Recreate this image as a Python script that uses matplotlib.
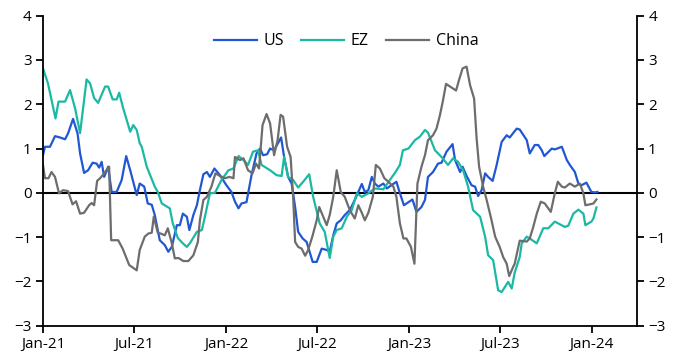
import pandas as pd
import matplotlib
matplotlib.use("Agg")
import matplotlib.pyplot as plt

plt.rcParams['font.family'] = ['Open Sans', 'DejaVu Sans']

# ---------------- data ----------------
us_dates = ["2021-01-01", "2021-01-05", "2021-01-15", "2021-01-25", "2021-02-04", "2021-02-14",
            "2021-02-20", "2021-03-02", "2021-03-11", "2021-03-16", "2021-03-24", "2021-04-01",
            "2021-04-10", "2021-04-18", "2021-04-23", "2021-04-28", "2021-05-03", "2021-05-11",
            "2021-05-18", "2021-05-28", "2021-06-07", "2021-06-16", "2021-06-24", "2021-07-07",
            "2021-07-13", "2021-07-22", "2021-07-29", "2021-08-06", "2021-08-12", "2021-08-22",
            "2021-09-01", "2021-09-08", "2021-09-15", "2021-09-25", "2021-10-01", "2021-10-07",
            "2021-10-15", "2021-10-20", "2021-10-28", "2021-11-04", "2021-11-10", "2021-11-17",
            "2021-11-24", "2021-11-30", "2021-12-09", "2021-12-20", "2022-01-02", "2022-01-12",
            "2022-01-19", "2022-01-26", "2022-02-01", "2022-02-11", "2022-02-21", "2022-03-03",
            "2022-03-10", "2022-03-16", "2022-03-24", "2022-03-30", "2022-04-07", "2022-04-21",
            "2022-04-27", "2022-05-05", "2022-05-12", "2022-05-19", "2022-05-25", "2022-06-03",
            "2022-06-11", "2022-06-18", "2022-06-23", "2022-07-01", "2022-07-11", "2022-07-21",
            "2022-07-27", "2022-08-03", "2022-08-10", "2022-08-18", "2022-08-26", "2022-09-05",
            "2022-09-15", "2022-09-22", "2022-09-29", "2022-10-05", "2022-10-12", "2022-10-19",
            "2022-10-25", "2022-11-01", "2022-11-11", "2022-11-18", "2022-11-27", "2022-12-07",
            "2022-12-14", "2022-12-22", "2022-12-31", "2023-01-08", "2023-01-16", "2023-01-26",
            "2023-02-02", "2023-02-08", "2023-02-18", "2023-02-28", "2023-03-07", "2023-03-17",
            "2023-03-29", "2023-04-03", "2023-04-13", "2023-04-18", "2023-04-26", "2023-05-06",
            "2023-05-13", "2023-05-19", "2023-05-26", "2023-06-02", "2023-06-08", "2023-06-17",
            "2023-06-25", "2023-07-05", "2023-07-15", "2023-07-21", "2023-08-04", "2023-08-10",
            "2023-08-24", "2023-08-30", "2023-09-09", "2023-09-16", "2023-09-23", "2023-09-28",
            "2023-10-13", "2023-10-19", "2023-11-02", "2023-11-12", "2023-11-18", "2023-11-28",
            "2023-12-05", "2023-12-11", "2023-12-21", "2023-12-31", "2024-01-07", "2024-01-12"]
us_vals = [0.85, 1.04, 1.04, 1.28, 1.25, 1.21,
           1.34, 1.67, 1.34, 0.89, 0.45, 0.51,
           0.68, 0.66, 0.57, 0.70, 0.36, 0.59,
           0.02, 0.02, 0.29, 0.83, 0.51, -0.05,
           0.21, 0.14, -0.24, -0.27, -0.50, -1.07,
           -1.18, -1.33, -1.22, -0.73, -0.73, -0.47,
           -0.54, -0.84, -0.50, -0.28, 0.06, 0.42,
           0.47, 0.36, 0.55, 0.40, 0.17, 0.02,
           -0.20, -0.35, -0.24, -0.21, 0.40, 0.89,
           1.00, 0.85, 0.87, 1.00, 0.96, 1.25,
           0.81, 0.36, 0.21, -0.32, -0.88, -1.03,
           -1.11, -1.37, -1.56, -1.56, -1.26, -1.29,
           -1.33, -0.96, -0.69, -0.62, -0.50, -0.39,
           -0.16, 0.02, 0.20, 0.02, 0.06, 0.36,
           0.21, 0.14, 0.21, 0.10, 0.17, 0.25,
           -0.01, -0.28, -0.21, -0.15, -0.43, -0.32,
           -0.16, 0.36, 0.47, 0.66, 0.68, 0.93,
           1.10, 0.74, 0.47, 0.59, 0.38, 0.17,
           0.14, -0.07, 0.06, 0.44, 0.36, 0.27,
           0.63, 1.15, 1.30, 1.25, 1.45, 1.43,
           1.19, 0.89, 1.08, 1.08, 0.96, 0.83,
           1.00, 0.98, 1.04, 0.74, 0.63, 0.47,
           0.21, 0.17, 0.23, 0.02, 0.01, 0.02]

ez_dates = ["2021-01-01", "2021-01-11", "2021-01-26", "2021-02-01", "2021-02-14", "2021-02-24",
            "2021-03-06", "2021-03-16", "2021-03-29", "2021-04-05", "2021-04-13", "2021-04-21",
            "2021-05-05", "2021-05-11", "2021-05-20", "2021-05-28", "2021-06-02", "2021-06-10",
            "2021-06-24", "2021-06-30", "2021-07-07", "2021-07-13", "2021-07-17", "2021-07-27",
            "2021-08-12", "2021-08-18", "2021-08-26", "2021-09-11", "2021-09-17", "2021-09-27",
            "2021-10-07", "2021-10-15", "2021-10-21", "2021-11-04", "2021-11-14", "2021-11-20",
            "2021-11-30", "2021-12-10", "2021-12-23", "2022-01-06", "2022-01-16", "2022-01-26",
            "2022-02-05", "2022-02-14", "2022-02-24", "2022-03-06", "2022-03-13", "2022-03-30",
            "2022-04-12", "2022-04-22", "2022-04-27", "2022-05-05", "2022-05-15", "2022-05-25",
            "2022-06-04", "2022-06-16", "2022-06-24", "2022-07-07", "2022-07-17", "2022-07-27",
            "2022-08-03", "2022-08-10", "2022-08-20", "2022-08-30", "2022-09-09", "2022-09-19",
            "2022-09-29", "2022-10-12", "2022-10-25", "2022-11-11", "2022-11-24", "2022-12-04",
            "2022-12-14", "2022-12-20", "2022-12-31", "2023-01-13", "2023-01-23", "2023-02-02",
            "2023-02-08", "2023-02-22", "2023-03-07", "2023-03-20", "2023-03-30", "2023-04-09",
            "2023-04-19", "2023-04-29", "2023-05-09", "2023-05-23", "2023-06-02", "2023-06-08",
            "2023-06-18", "2023-06-28", "2023-07-05", "2023-07-18", "2023-07-25", "2023-07-31",
            "2023-08-10", "2023-08-14", "2023-08-24", "2023-08-30", "2023-09-13", "2023-09-26",
            "2023-10-06", "2023-10-19", "2023-11-08", "2023-11-15", "2023-11-25", "2023-12-05",
            "2023-12-15", "2023-12-19", "2023-12-31", "2024-01-04", "2024-01-10"]
ez_vals = [2.81, 2.47, 1.68, 2.06, 2.06, 2.32,
           1.91, 1.35, 2.56, 2.47, 2.14, 2.03,
           2.40, 2.40, 2.11, 2.11, 2.26, 1.91,
           1.38, 1.53, 1.42, 1.12, 1.04, 0.59,
           0.14, 0.02, -0.24, -0.35, -0.69, -1.02,
           -1.14, -1.22, -1.14, -0.88, -0.84, -0.54,
           -0.01, 0.00, 0.29, 0.51, 0.55, 0.83,
           0.74, 0.63, 0.93, 0.96, 0.63, 0.51,
           0.40, 0.38, 0.81, 0.36, 0.29, 0.12,
           0.25, 0.42, -0.09, -0.69, -0.88, -1.47,
           -0.99, -0.84, -0.80, -0.54, -0.39, -0.01,
           -0.09, -0.01, 0.10, 0.08, 0.29, 0.45,
           0.63, 0.96, 1.00, 1.19, 1.27, 1.42,
           1.36, 0.96, 0.81, 0.63, 0.78, 0.70,
           0.51, 0.14, -0.39, -0.54, -0.99, -1.41,
           -1.52, -2.20, -2.24, -2.01, -2.16, -1.80,
           -1.45, -1.14, -0.99, -1.03, -1.14, -0.80,
           -0.80, -0.65, -0.77, -0.74, -0.47, -0.38,
           -0.47, -0.73, -0.65, -0.58, -0.33]

cn_dates = ["2021-01-01", "2021-01-05", "2021-01-12", "2021-01-18", "2021-01-25", "2021-02-02",
            "2021-02-10", "2021-02-20", "2021-03-01", "2021-03-08", "2021-03-16", "2021-03-24",
            "2021-04-03", "2021-04-08", "2021-04-13", "2021-04-19", "2021-04-25", "2021-05-05",
            "2021-05-13", "2021-05-17", "2021-05-31", "2021-06-09", "2021-06-22", "2021-07-07",
            "2021-07-13", "2021-07-23", "2021-07-30", "2021-08-06", "2021-08-10", "2021-08-18",
            "2021-08-24", "2021-09-01", "2021-09-07", "2021-09-15", "2021-09-21", "2021-09-28",
            "2021-10-08", "2021-10-18", "2021-10-28", "2021-11-06", "2021-11-10", "2021-11-17",
            "2021-11-24", "2021-12-03", "2021-12-11", "2021-12-20", "2021-12-30", "2022-01-08",
            "2022-01-16", "2022-01-19", "2022-01-29", "2022-02-05", "2022-02-14", "2022-02-23",
            "2022-03-02", "2022-03-08", "2022-03-15", "2022-03-23", "2022-03-30", "2022-04-07",
            "2022-04-14", "2022-04-20", "2022-04-25", "2022-05-03", "2022-05-10", "2022-05-15",
            "2022-05-19", "2022-05-25", "2022-06-01", "2022-06-08", "2022-06-14", "2022-06-23",
            "2022-07-01", "2022-07-06", "2022-07-14", "2022-07-21", "2022-07-27", "2022-08-03",
            "2022-08-10", "2022-08-18", "2022-08-26", "2022-09-05", "2022-09-15", "2022-09-22",
            "2022-09-29", "2022-10-05", "2022-10-12", "2022-10-21", "2022-10-27", "2022-11-04",
            "2022-11-13", "2022-11-21", "2022-12-01", "2022-12-07", "2022-12-14", "2022-12-21",
            "2022-12-27", "2023-01-05", "2023-01-12", "2023-01-18", "2023-01-26", "2023-02-02",
            "2023-02-08", "2023-02-18", "2023-02-25", "2023-03-04", "2023-03-10", "2023-03-16",
            "2023-03-24", "2023-04-05", "2023-04-11", "2023-04-18", "2023-04-26", "2023-05-03",
            "2023-05-11", "2023-05-16", "2023-05-21", "2023-05-29", "2023-06-05", "2023-06-14",
            "2023-06-22", "2023-07-01", "2023-07-08", "2023-07-15", "2023-07-20", "2023-07-28",
            "2023-07-31", "2023-08-10", "2023-08-24", "2023-08-30", "2023-09-06", "2023-09-13",
            "2023-09-21", "2023-09-29", "2023-10-11", "2023-10-19", "2023-10-25", "2023-11-02",
            "2023-11-08", "2023-11-18", "2023-11-28", "2023-12-08", "2023-12-15", "2023-12-19",
            "2023-12-28", "2024-01-04", "2024-01-10"]
cn_vals = [0.63, 0.33, 0.33, 0.47, 0.36, -0.01,
           0.06, 0.04, -0.26, -0.19, -0.47, -0.45,
           -0.28, -0.23, -0.28, 0.27, 0.33, 0.47,
           0.59, -1.07, -1.07, -1.26, -1.63, -1.75,
           -1.29, -0.99, -0.92, -0.90, -0.54, -0.90,
           -0.92, -0.96, -0.80, -1.14, -1.48, -1.47,
           -1.54, -1.54, -1.41, -1.11, -0.62, -0.16,
           -0.09, 0.14, 0.44, 0.38, 0.33, 0.36,
           0.33, 0.81, 0.74, 0.78, 0.51, 0.44,
           0.66, 0.55, 1.53, 1.78, 1.57, 0.85,
           1.19, 1.76, 1.72, 1.04, 0.81, -0.09,
           -1.11, -1.22, -1.26, -1.42, -1.29, -0.96,
           -0.62, -0.32, -0.54, -0.73, -0.50, -0.09,
           0.51, 0.02, -0.09, -0.39, -0.58, -0.28,
           -0.45, -0.62, -0.45, -0.09, 0.63, 0.55,
           0.33, 0.25, 0.14, -0.09, -0.69, -1.03,
           -1.03, -1.22, -1.60, 0.21, 0.59, 0.85,
           1.19, 1.30, 1.45, 1.76, 2.09, 2.46,
           2.40, 2.31, 2.55, 2.81, 2.85, 2.43,
           2.13, 1.23, 0.59, 0.14, -0.16, -0.58,
           -0.99, -1.22, -1.45, -1.60, -1.88, -1.67,
           -1.60, -1.08, -1.10, -1.03, -0.77, -0.47,
           -0.20, -0.24, -0.43, -0.01, 0.25, 0.14,
           0.12, 0.21, 0.14, 0.21, -0.01, -0.28,
           -0.26, -0.24, -0.15]

series = [("US", us_dates, us_vals, "#2257d3"),
          ("EZ", ez_dates, ez_vals, "#1bb9a4"),
          ("China", cn_dates, cn_vals, "#6d6d6d")]

tick_dates = ["2021-01-01", "2021-07-01", "2022-01-01", "2022-07-01",
              "2023-01-01", "2023-07-01", "2024-01-01"]
tick_labels = ["Jan-21", "Jul-21", "Jan-22", "Jul-22", "Jan-23", "Jul-23", "Jan-24"]

# ---------------- plot ----------------
fig = plt.figure(figsize=(6.8, 3.64), dpi=100)
ax = fig.add_axes([0.0632, 0.1052, 0.8736, 0.8517])

for name, d, v, c in series:
    ax.plot(pd.to_datetime(d), v, color=c, lw=1.6, label=name)

ax.axhline(0, color="black", lw=1.5, zorder=1)

ax.set_ylim(-3, 4)
ax.set_yticks(range(-3, 5))
ax.set_xlim(pd.Timestamp("2021-01-01"), pd.Timestamp("2024-03-31"))
ax.set_xticks(pd.to_datetime(tick_dates))
ax.set_xticklabels(tick_labels)

ax.spines["top"].set_visible(False)
for s in ["left", "right", "bottom"]:
    ax.spines[s].set_linewidth(1.3)
ax.tick_params(axis="both", direction="out", length=5, width=1.3, labelsize=11, pad=3)
ax.tick_params(axis="y", left=True, right=True, labelleft=True, labelright=True)

ax.legend(loc="upper center", bbox_to_anchor=(0.51, 0.99), ncol=3, frameon=False,
          fontsize=11.5, handlelength=2.7, columnspacing=1.1, handletextpad=0.4)

fig.savefig("out.png", dpi=100)
